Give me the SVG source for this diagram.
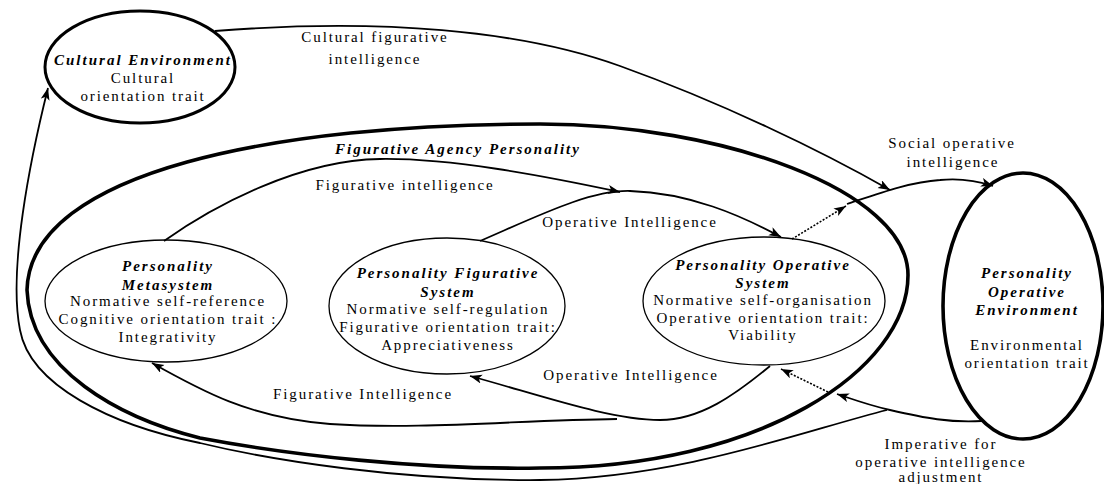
<svg xmlns="http://www.w3.org/2000/svg" width="1104" height="484" viewBox="0 0 1104 484">
<defs>
<style>
text{font-family:"Liberation Serif","Times New Roman",serif;font-size:15px;letter-spacing:1.9px;fill:#000;text-anchor:middle}
.t{font-weight:bold;font-style:italic;letter-spacing:2px}
.thin{fill:none;stroke:#000;stroke-width:1.8}
.dot{fill:none;stroke:#000;stroke-width:1.6;stroke-dasharray:2 1.6}
.inner{fill:#fff;stroke:#000;stroke-width:1.3}
.thick{fill:none;stroke:#000;stroke-width:3.6}
</style>
<marker id="ah" markerUnits="userSpaceOnUse" markerWidth="14" markerHeight="10" refX="12" refY="4.5" orient="auto">
<path d="M0,0 L12,4.5 L0,9 L3,4.5 Z" fill="#000"/>
</marker>
</defs>
<rect width="1104" height="484" fill="#fff"/>

<g id="figurative-agency-personality">
<path class="thick" d="M27,290 C30,170 280,124 540,124 C720,124 908,190 908,275 C908,370 760,468 540,468 C420,470 290,455 200,438 C120,418 30,370 27,290 Z"/>
<text class="t" x="458" y="154">Figurative Agency Personality</text>
</g>

<g id="cultural-environment">
<ellipse cx="140" cy="67" rx="95" ry="56" fill="#fff" stroke="#000" stroke-width="3"/>
<text class="t" x="143" y="65">Cultural Environment</text>
<text x="143" y="83">Cultural</text>
<text x="143" y="101">orientation trait</text>
</g>

<g id="personality-operative-environment">
<ellipse cx="1023" cy="306" rx="80" ry="133" fill="#fff" stroke="#000" stroke-width="3.6"/>
<text class="t" x="1027" y="278">Personality</text>
<text class="t" x="1027" y="297">Operative</text>
<text class="t" x="1027" y="315">Environment</text>
<text x="1027" y="350">Environmental</text>
<text x="1027" y="368">orientation trait</text>
</g>

<g id="personality-metasystem">
<ellipse class="inner" cx="166" cy="301" rx="121" ry="61"/>
<text class="t" x="168" y="271">Personality</text>
<text class="t" x="168" y="290">Metasystem</text>
<text x="168" y="306">Normative self-reference</text>
<text x="168" y="324">Cognitive orientation trait :</text>
<text x="168" y="342">Integrativity</text>
</g>

<g id="personality-figurative-system">
<ellipse class="inner" cx="447" cy="306" rx="118" ry="68"/>
<text class="t" x="448" y="278">Personality Figurative</text>
<text class="t" x="448" y="297">System</text>
<text x="448" y="314">Normative self-regulation</text>
<text x="448" y="332">Figurative orientation trait:</text>
<text x="448" y="350">Appreciativeness</text>
</g>

<g id="personality-operative-system">
<ellipse class="inner" cx="764" cy="301" rx="121" ry="64"/>
<text class="t" x="763" y="270">Personality Operative</text>
<text class="t" x="763" y="288">System</text>
<text x="763" y="305">Normative self-organisation</text>
<text x="763" y="323">Operative orientation trait:</text>
<text x="763" y="340">Viability</text>
</g>

<g id="connectors">
<path class="thin" marker-end="url(#ah)" d="M215,31 C380,18 520,30 620,66 C720,102 820,150 890,190"/>
<path class="thin" marker-end="url(#ah)" d="M847,204 C880,193 910,182 940,180 C960,178 978,181 993,186"/>
<path class="dot" marker-end="url(#ah)" d="M792,239 L846,206"/>
<path class="thin" marker-end="url(#ah)" d="M164,241 C215,205 300,160 380,159 C450,158 540,175 620,192"/>
<path class="thin" marker-end="url(#ah)" d="M480,241 C540,215 590,190 630,191 C690,193 740,215 781,237"/>
<path class="thin" marker-end="url(#ah)" d="M770,366 C735,395 700,420 660,420 C610,420 540,395 470,376"/>
<path class="thin" marker-end="url(#ah)" d="M617,419 C520,420 420,430 330,424 C250,418 200,390 152,363"/>
<path class="dot" marker-end="url(#ah)" d="M828,392 L781,369"/>
<path class="thin" marker-end="url(#ah)" d="M982,421 C950,423 925,418 890,410 C868,405 852,399 837,394"/>
<path class="thin" marker-end="url(#ah)" d="M887,410 C800,432 680,478 540,480 C400,481 270,460 200,443 C110,425 30,385 20,330 C8,270 30,160 48,88"/>
<text x="375" y="42">Cultural figurative</text>
<text x="375" y="64">intelligence</text>
<text x="952" y="148">Social operative</text>
<text x="953" y="167">intelligence</text>
<text x="405" y="190">Figurative intelligence</text>
<text x="630" y="227">Operative Intelligence</text>
<text x="631" y="380">Operative Intelligence</text>
<text x="363" y="399">Figurative Intelligence</text>
<text x="941" y="449">Imperative for</text>
<text x="941" y="467">operative intelligence</text>
<text x="941" y="482">adjustment</text>
</g>
</svg>
